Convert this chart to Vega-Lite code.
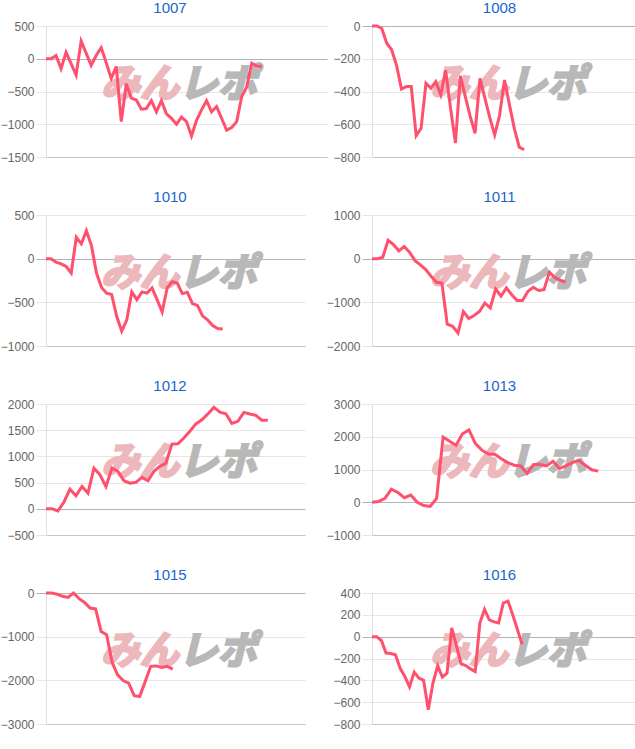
{
"$schema": "https://vega.github.io/schema/vega-lite/v6.json",
"padding": {"top": 1, "left": 0, "right": 0, "bottom": 0},
"background": "white",
"config": {
  "view": {"stroke": null},
  "axis": {"labelFont": "Liberation Sans", "labelFontSize": 12, "labelColor": "#666666", "format": "d"},
  "title": {"font": "Liberation Sans", "fontSize": 15, "fontWeight": "normal", "color": "#1a66cc", "offset": 4, "frame": "group", "anchor": "middle"}
},
"datasets": {
  "d1007": [{"i":0,"v":0},{"i":1,"v":0},{"i":2,"v":50},{"i":3,"v":-150},{"i":4,"v":100},{"i":5,"v":-75},{"i":6,"v":-250},{"i":7,"v":270},{"i":8,"v":85},{"i":9,"v":-100},{"i":10,"v":50},{"i":11,"v":170},{"i":12,"v":-60},{"i":13,"v":-300},{"i":14,"v":-120},{"i":15,"v":-960},{"i":16,"v":-380},{"i":17,"v":-600},{"i":18,"v":-630},{"i":19,"v":-770},{"i":20,"v":-760},{"i":21,"v":-640},{"i":22,"v":-810},{"i":23,"v":-640},{"i":24,"v":-840},{"i":25,"v":-910},{"i":26,"v":-1000},{"i":27,"v":-890},{"i":28,"v":-960},{"i":29,"v":-1180},{"i":30,"v":-940},{"i":31,"v":-780},{"i":32,"v":-640},{"i":33,"v":-810},{"i":34,"v":-730},{"i":35,"v":-910},{"i":36,"v":-1090},{"i":37,"v":-1050},{"i":38,"v":-960},{"i":39,"v":-580},{"i":40,"v":-430},{"i":41,"v":-70},{"i":42,"v":-110},{"i":43,"v":-120}],
  "d1008": [{"i":0,"v":0},{"i":1,"v":0},{"i":2,"v":-15},{"i":3,"v":-105},{"i":4,"v":-145},{"i":5,"v":-240},{"i":6,"v":-385},{"i":7,"v":-370},{"i":8,"v":-370},{"i":9,"v":-670},{"i":10,"v":-625},{"i":11,"v":-350},{"i":12,"v":-380},{"i":13,"v":-340},{"i":14,"v":-420},{"i":15,"v":-270},{"i":16,"v":-500},{"i":17,"v":-715},{"i":18,"v":-305},{"i":19,"v":-430},{"i":20,"v":-550},{"i":21,"v":-655},{"i":22,"v":-320},{"i":23,"v":-440},{"i":24,"v":-560},{"i":25,"v":-665},{"i":26,"v":-545},{"i":27,"v":-330},{"i":28,"v":-480},{"i":29,"v":-625},{"i":30,"v":-740},{"i":31,"v":-755}],
  "d1010": [{"i":0,"v":0},{"i":1,"v":0},{"i":2,"v":-40},{"i":3,"v":-60},{"i":4,"v":-90},{"i":5,"v":-165},{"i":6,"v":245},{"i":7,"v":170},{"i":8,"v":320},{"i":9,"v":150},{"i":10,"v":-165},{"i":11,"v":-330},{"i":12,"v":-395},{"i":13,"v":-410},{"i":14,"v":-660},{"i":15,"v":-830},{"i":16,"v":-700},{"i":17,"v":-380},{"i":18,"v":-470},{"i":19,"v":-380},{"i":20,"v":-395},{"i":21,"v":-335},{"i":22,"v":-470},{"i":23,"v":-610},{"i":24,"v":-335},{"i":25,"v":-265},{"i":26,"v":-280},{"i":27,"v":-400},{"i":28,"v":-385},{"i":29,"v":-515},{"i":30,"v":-535},{"i":31,"v":-655},{"i":32,"v":-700},{"i":33,"v":-765},{"i":34,"v":-800},{"i":35,"v":-805}],
  "d1011": [{"i":0,"v":0},{"i":1,"v":0},{"i":2,"v":30},{"i":3,"v":420},{"i":4,"v":320},{"i":5,"v":180},{"i":6,"v":280},{"i":7,"v":145},{"i":8,"v":-45},{"i":9,"v":-140},{"i":10,"v":-250},{"i":11,"v":-405},{"i":12,"v":-540},{"i":13,"v":-560},{"i":14,"v":-1500},{"i":15,"v":-1550},{"i":16,"v":-1700},{"i":17,"v":-1210},{"i":18,"v":-1370},{"i":19,"v":-1300},{"i":20,"v":-1210},{"i":21,"v":-1015},{"i":22,"v":-1130},{"i":23,"v":-695},{"i":24,"v":-860},{"i":25,"v":-670},{"i":26,"v":-825},{"i":27,"v":-960},{"i":28,"v":-960},{"i":29,"v":-750},{"i":30,"v":-655},{"i":31,"v":-730},{"i":32,"v":-710},{"i":33,"v":-305},{"i":34,"v":-430},{"i":35,"v":-495},{"i":36,"v":-535}],
  "d1012": [{"i":0,"v":0},{"i":1,"v":0},{"i":2,"v":-40},{"i":3,"v":130},{"i":4,"v":375},{"i":5,"v":250},{"i":6,"v":425},{"i":7,"v":300},{"i":8,"v":775},{"i":9,"v":650},{"i":10,"v":425},{"i":11,"v":775},{"i":12,"v":715},{"i":13,"v":535},{"i":14,"v":490},{"i":15,"v":505},{"i":16,"v":600},{"i":17,"v":535},{"i":18,"v":715},{"i":19,"v":810},{"i":20,"v":870},{"i":21,"v":1235},{"i":22,"v":1240},{"i":23,"v":1350},{"i":24,"v":1480},{"i":25,"v":1620},{"i":26,"v":1700},{"i":27,"v":1810},{"i":28,"v":1935},{"i":29,"v":1845},{"i":30,"v":1815},{"i":31,"v":1630},{"i":32,"v":1670},{"i":33,"v":1840},{"i":34,"v":1810},{"i":35,"v":1785},{"i":36,"v":1690},{"i":37,"v":1690}],
  "d1013": [{"i":0,"v":0},{"i":1,"v":20},{"i":2,"v":120},{"i":3,"v":400},{"i":4,"v":300},{"i":5,"v":140},{"i":6,"v":220},{"i":7,"v":0},{"i":8,"v":-100},{"i":9,"v":-130},{"i":10,"v":120},{"i":11,"v":1990},{"i":12,"v":1860},{"i":13,"v":1740},{"i":14,"v":2090},{"i":15,"v":2210},{"i":16,"v":1790},{"i":17,"v":1590},{"i":18,"v":1475},{"i":19,"v":1465},{"i":20,"v":1330},{"i":21,"v":1210},{"i":22,"v":1130},{"i":23,"v":1110},{"i":24,"v":880},{"i":25,"v":1150},{"i":26,"v":1150},{"i":27,"v":1110},{"i":28,"v":1250},{"i":29,"v":1030},{"i":30,"v":1110},{"i":31,"v":1210},{"i":32,"v":1280},{"i":33,"v":1130},{"i":34,"v":990},{"i":35,"v":950}],
  "d1015": [{"i":0,"v":0},{"i":1,"v":0},{"i":2,"v":-25},{"i":3,"v":-75},{"i":4,"v":-100},{"i":5,"v":0},{"i":6,"v":-130},{"i":7,"v":-215},{"i":8,"v":-345},{"i":9,"v":-365},{"i":10,"v":-880},{"i":11,"v":-955},{"i":12,"v":-1590},{"i":13,"v":-1875},{"i":14,"v":-2005},{"i":15,"v":-2065},{"i":16,"v":-2350},{"i":17,"v":-2370},{"i":18,"v":-2030},{"i":19,"v":-1680},{"i":20,"v":-1670},{"i":21,"v":-1705},{"i":22,"v":-1680},{"i":23,"v":-1745}],
  "d1016": [{"i":0,"v":0},{"i":1,"v":0},{"i":2,"v":-35},{"i":3,"v":-150},{"i":4,"v":-155},{"i":5,"v":-165},{"i":6,"v":-290},{"i":7,"v":-365},{"i":8,"v":-460},{"i":9,"v":-325},{"i":10,"v":-380},{"i":11,"v":-400},{"i":12,"v":-670},{"i":13,"v":-425},{"i":14,"v":-265},{"i":15,"v":-370},{"i":16,"v":-335},{"i":17,"v":80},{"i":18,"v":-85},{"i":19,"v":-250},{"i":20,"v":-265},{"i":21,"v":-295},{"i":22,"v":-320},{"i":23,"v":125},{"i":24,"v":250},{"i":25,"v":155},{"i":26,"v":135},{"i":27,"v":125},{"i":28,"v":310},{"i":29,"v":325},{"i":30,"v":200},{"i":31,"v":65},{"i":32,"v":-70}]
},
"concat": [
  {"title": {"text": "1007", "dx": -16.5}, "width": 281, "height": 131,
   "encoding": {
     "x": {"field": "i", "type": "quantitative", "scale": {"domain": [0, 56], "nice": false, "zero": false}, "axis": {"title": null, "labels": false, "ticks": false, "grid": false, "domain": true, "domainColor": "#c4c4c4"}},
     "y": {"field": "v", "type": "quantitative", "scale": {"domain": [-1500, 500], "nice": false, "zero": false}, "axis": {"title": null, "values": [-1500, -1000, -500, 0, 500], "grid": true, "gridColor": {"condition": {"test": "datum.value === 0", "value": "#b3b3b3"}, "value": "#e6e6e6"}, "tickColor": {"condition": {"test": "datum.value === 0", "value": "#b3b3b3"}, "value": "#e6e6e6"}, "tickSize": 10, "labelPadding": 2, "domainColor": "#e0e0e0", "minExtent": 44, "maxExtent": 44}}
   },
   "layer": [
    {"data": {"values": [{"i": 26.5, "v": -400, "t": "みん"}]}, "mark": {"type": "text", "align": "right", "baseline": "middle", "font": "Noto Sans CJK JP", "fontSize": 39, "fontWeight": "bold", "fontStyle": "italic", "color": "#ecb8bb", "stroke": "#ecb8bb", "strokeWidth": 2.5}, "encoding": {"text": {"field": "t"}}},
    {"data": {"values": [{"i": 26.5, "v": -400, "t": "レポ"}]}, "mark": {"type": "text", "align": "left", "baseline": "middle", "font": "Noto Sans CJK JP", "fontSize": 39, "fontWeight": "bold", "fontStyle": "italic", "color": "#b8b8b8", "stroke": "#b8b8b8", "strokeWidth": 2.5}, "encoding": {"text": {"field": "t"}}},
    {"data": {"name": "d1007"}, "mark": {"type": "line", "color": "#ff506e", "strokeWidth": 3}}
   ]},
  {"title": {"text": "1008", "dx": -5}, "width": 265, "height": 131,
   "encoding": {
     "x": {"field": "i", "type": "quantitative", "scale": {"domain": [0, 54], "nice": false, "zero": false}, "axis": {"title": null, "labels": false, "ticks": false, "grid": false, "domain": true, "domainColor": "#c4c4c4"}},
     "y": {"field": "v", "type": "quantitative", "scale": {"domain": [-800, 0], "nice": false, "zero": false}, "axis": {"title": null, "values": [-800, -600, -400, -200, 0], "grid": true, "gridColor": {"condition": {"test": "datum.value === 0", "value": "#b3b3b3"}, "value": "#e6e6e6"}, "tickColor": {"condition": {"test": "datum.value === 0", "value": "#b3b3b3"}, "value": "#e6e6e6"}, "tickSize": 10, "labelPadding": 2, "domainColor": "#e0e0e0", "minExtent": 40, "maxExtent": 40}}
   },
   "layer": [
    {"data": {"values": [{"i": 27.7, "v": -360, "t": "みん"}]}, "mark": {"type": "text", "align": "right", "baseline": "middle", "font": "Noto Sans CJK JP", "fontSize": 39, "fontWeight": "bold", "fontStyle": "italic", "color": "#ecb8bb", "stroke": "#ecb8bb", "strokeWidth": 2.5}, "encoding": {"text": {"field": "t"}}},
    {"data": {"values": [{"i": 27.7, "v": -360, "t": "レポ"}]}, "mark": {"type": "text", "align": "left", "baseline": "middle", "font": "Noto Sans CJK JP", "fontSize": 39, "fontWeight": "bold", "fontStyle": "italic", "color": "#b8b8b8", "stroke": "#b8b8b8", "strokeWidth": 2.5}, "encoding": {"text": {"field": "t"}}},
    {"data": {"name": "d1008"}, "mark": {"type": "line", "color": "#ff506e", "strokeWidth": 3}}
   ]},
  {"title": {"text": "1010", "dx": -5.5}, "width": 259, "height": 131,
   "encoding": {
     "x": {"field": "i", "type": "quantitative", "scale": {"domain": [0, 51.3], "nice": false, "zero": false}, "axis": {"title": null, "labels": false, "ticks": false, "grid": false, "domain": true, "domainColor": "#c4c4c4"}},
     "y": {"field": "v", "type": "quantitative", "scale": {"domain": [-1000, 500], "nice": false, "zero": false}, "axis": {"title": null, "values": [-1000, -500, 0, 500], "grid": true, "gridColor": {"condition": {"test": "datum.value === 0", "value": "#b3b3b3"}, "value": "#e6e6e6"}, "tickColor": {"condition": {"test": "datum.value === 0", "value": "#b3b3b3"}, "value": "#e6e6e6"}, "tickSize": 10, "labelPadding": 2, "domainColor": "#e0e0e0", "minExtent": 44, "maxExtent": 44}}
   },
   "layer": [
    {"data": {"values": [{"i": 26.3, "v": -175, "t": "みん"}]}, "mark": {"type": "text", "align": "right", "baseline": "middle", "font": "Noto Sans CJK JP", "fontSize": 39, "fontWeight": "bold", "fontStyle": "italic", "color": "#ecb8bb", "stroke": "#ecb8bb", "strokeWidth": 2.5}, "encoding": {"text": {"field": "t"}}},
    {"data": {"values": [{"i": 26.3, "v": -175, "t": "レポ"}]}, "mark": {"type": "text", "align": "left", "baseline": "middle", "font": "Noto Sans CJK JP", "fontSize": 39, "fontWeight": "bold", "fontStyle": "italic", "color": "#b8b8b8", "stroke": "#b8b8b8", "strokeWidth": 2.5}, "encoding": {"text": {"field": "t"}}},
    {"data": {"name": "d1010"}, "mark": {"type": "line", "color": "#ff506e", "strokeWidth": 3}}
   ]},
  {"title": {"text": "1011", "dx": -5}, "width": 265, "height": 131,
   "encoding": {
     "x": {"field": "i", "type": "quantitative", "scale": {"domain": [0, 49.3], "nice": false, "zero": false}, "axis": {"title": null, "labels": false, "ticks": false, "grid": false, "domain": true, "domainColor": "#c4c4c4"}},
     "y": {"field": "v", "type": "quantitative", "scale": {"domain": [-2000, 1000], "nice": false, "zero": false}, "axis": {"title": null, "values": [-2000, -1000, 0, 1000], "grid": true, "gridColor": {"condition": {"test": "datum.value === 0", "value": "#b3b3b3"}, "value": "#e6e6e6"}, "tickColor": {"condition": {"test": "datum.value === 0", "value": "#b3b3b3"}, "value": "#e6e6e6"}, "tickSize": 10, "labelPadding": 2, "domainColor": "#e0e0e0", "minExtent": 40, "maxExtent": 40}}
   },
   "layer": [
    {"data": {"values": [{"i": 25.3, "v": -350, "t": "みん"}]}, "mark": {"type": "text", "align": "right", "baseline": "middle", "font": "Noto Sans CJK JP", "fontSize": 39, "fontWeight": "bold", "fontStyle": "italic", "color": "#ecb8bb", "stroke": "#ecb8bb", "strokeWidth": 2.5}, "encoding": {"text": {"field": "t"}}},
    {"data": {"values": [{"i": 25.3, "v": -350, "t": "レポ"}]}, "mark": {"type": "text", "align": "left", "baseline": "middle", "font": "Noto Sans CJK JP", "fontSize": 39, "fontWeight": "bold", "fontStyle": "italic", "color": "#b8b8b8", "stroke": "#b8b8b8", "strokeWidth": 2.5}, "encoding": {"text": {"field": "t"}}},
    {"data": {"name": "d1011"}, "mark": {"type": "line", "color": "#ff506e", "strokeWidth": 3}}
   ]},
  {"title": {"text": "1012", "dx": -5.5}, "width": 259, "height": 131,
   "encoding": {
     "x": {"field": "i", "type": "quantitative", "scale": {"domain": [0, 43.2], "nice": false, "zero": false}, "axis": {"title": null, "labels": false, "ticks": false, "grid": false, "domain": true, "domainColor": "#c4c4c4"}},
     "y": {"field": "v", "type": "quantitative", "scale": {"domain": [-500, 2000], "nice": false, "zero": false}, "axis": {"title": null, "values": [-500, 0, 500, 1000, 1500, 2000], "grid": true, "gridColor": {"condition": {"test": "datum.value === 0", "value": "#b3b3b3"}, "value": "#e6e6e6"}, "tickColor": {"condition": {"test": "datum.value === 0", "value": "#b3b3b3"}, "value": "#e6e6e6"}, "tickSize": 10, "labelPadding": 2, "domainColor": "#e0e0e0", "minExtent": 44, "maxExtent": 44}}
   },
   "layer": [
    {"data": {"values": [{"i": 22.2, "v": 875, "t": "みん"}]}, "mark": {"type": "text", "align": "right", "baseline": "middle", "font": "Noto Sans CJK JP", "fontSize": 39, "fontWeight": "bold", "fontStyle": "italic", "color": "#ecb8bb", "stroke": "#ecb8bb", "strokeWidth": 2.5}, "encoding": {"text": {"field": "t"}}},
    {"data": {"values": [{"i": 22.2, "v": 875, "t": "レポ"}]}, "mark": {"type": "text", "align": "left", "baseline": "middle", "font": "Noto Sans CJK JP", "fontSize": 39, "fontWeight": "bold", "fontStyle": "italic", "color": "#b8b8b8", "stroke": "#b8b8b8", "strokeWidth": 2.5}, "encoding": {"text": {"field": "t"}}},
    {"data": {"name": "d1012"}, "mark": {"type": "line", "color": "#ff506e", "strokeWidth": 3}}
   ]},
  {"title": {"text": "1013", "dx": -5}, "width": 265, "height": 131,
   "encoding": {
     "x": {"field": "i", "type": "quantitative", "scale": {"domain": [0, 41], "nice": false, "zero": false}, "axis": {"title": null, "labels": false, "ticks": false, "grid": false, "domain": true, "domainColor": "#c4c4c4"}},
     "y": {"field": "v", "type": "quantitative", "scale": {"domain": [-1000, 3000], "nice": false, "zero": false}, "axis": {"title": null, "values": [-1000, 0, 1000, 2000, 3000], "grid": true, "gridColor": {"condition": {"test": "datum.value === 0", "value": "#b3b3b3"}, "value": "#e6e6e6"}, "tickColor": {"condition": {"test": "datum.value === 0", "value": "#b3b3b3"}, "value": "#e6e6e6"}, "tickSize": 10, "labelPadding": 2, "domainColor": "#e0e0e0", "minExtent": 40, "maxExtent": 40}}
   },
   "layer": [
    {"data": {"values": [{"i": 21.0, "v": 1200, "t": "みん"}]}, "mark": {"type": "text", "align": "right", "baseline": "middle", "font": "Noto Sans CJK JP", "fontSize": 39, "fontWeight": "bold", "fontStyle": "italic", "color": "#ecb8bb", "stroke": "#ecb8bb", "strokeWidth": 2.5}, "encoding": {"text": {"field": "t"}}},
    {"data": {"values": [{"i": 21.0, "v": 1200, "t": "レポ"}]}, "mark": {"type": "text", "align": "left", "baseline": "middle", "font": "Noto Sans CJK JP", "fontSize": 39, "fontWeight": "bold", "fontStyle": "italic", "color": "#b8b8b8", "stroke": "#b8b8b8", "strokeWidth": 2.5}, "encoding": {"text": {"field": "t"}}},
    {"data": {"name": "d1013"}, "mark": {"type": "line", "color": "#ff506e", "strokeWidth": 3}}
   ]},
  {"title": {"text": "1015", "dx": -5.5}, "width": 259, "height": 131,
   "encoding": {
     "x": {"field": "i", "type": "quantitative", "scale": {"domain": [0, 47], "nice": false, "zero": false}, "axis": {"title": null, "labels": false, "ticks": false, "grid": false, "domain": true, "domainColor": "#c4c4c4"}},
     "y": {"field": "v", "type": "quantitative", "scale": {"domain": [-3000, 0], "nice": false, "zero": false}, "axis": {"title": null, "values": [-3000, -2000, -1000, 0], "grid": true, "gridColor": {"condition": {"test": "datum.value === 0", "value": "#b3b3b3"}, "value": "#e6e6e6"}, "tickColor": {"condition": {"test": "datum.value === 0", "value": "#b3b3b3"}, "value": "#e6e6e6"}, "tickSize": 10, "labelPadding": 2, "domainColor": "#e0e0e0", "minExtent": 44, "maxExtent": 44}}
   },
   "layer": [
    {"data": {"values": [{"i": 24.1, "v": -1350, "t": "みん"}]}, "mark": {"type": "text", "align": "right", "baseline": "middle", "font": "Noto Sans CJK JP", "fontSize": 39, "fontWeight": "bold", "fontStyle": "italic", "color": "#ecb8bb", "stroke": "#ecb8bb", "strokeWidth": 2.5}, "encoding": {"text": {"field": "t"}}},
    {"data": {"values": [{"i": 24.1, "v": -1350, "t": "レポ"}]}, "mark": {"type": "text", "align": "left", "baseline": "middle", "font": "Noto Sans CJK JP", "fontSize": 39, "fontWeight": "bold", "fontStyle": "italic", "color": "#b8b8b8", "stroke": "#b8b8b8", "strokeWidth": 2.5}, "encoding": {"text": {"field": "t"}}},
    {"data": {"name": "d1015"}, "mark": {"type": "line", "color": "#ff506e", "strokeWidth": 3}}
   ]},
  {"title": {"text": "1016", "dx": -5}, "width": 265, "height": 131,
   "encoding": {
     "x": {"field": "i", "type": "quantitative", "scale": {"domain": [0, 56.5], "nice": false, "zero": false}, "axis": {"title": null, "labels": false, "ticks": false, "grid": false, "domain": true, "domainColor": "#c4c4c4"}},
     "y": {"field": "v", "type": "quantitative", "scale": {"domain": [-800, 400], "nice": false, "zero": false}, "axis": {"title": null, "values": [-800, -600, -400, -200, 0, 200, 400], "grid": true, "gridColor": {"condition": {"test": "datum.value === 0", "value": "#b3b3b3"}, "value": "#e6e6e6"}, "tickColor": {"condition": {"test": "datum.value === 0", "value": "#b3b3b3"}, "value": "#e6e6e6"}, "tickSize": 10, "labelPadding": 2, "domainColor": "#e0e0e0", "minExtent": 40, "maxExtent": 40}}
   },
   "layer": [
    {"data": {"values": [{"i": 29.0, "v": -140, "t": "みん"}]}, "mark": {"type": "text", "align": "right", "baseline": "middle", "font": "Noto Sans CJK JP", "fontSize": 39, "fontWeight": "bold", "fontStyle": "italic", "color": "#ecb8bb", "stroke": "#ecb8bb", "strokeWidth": 2.5}, "encoding": {"text": {"field": "t"}}},
    {"data": {"values": [{"i": 29.0, "v": -140, "t": "レポ"}]}, "mark": {"type": "text", "align": "left", "baseline": "middle", "font": "Noto Sans CJK JP", "fontSize": 39, "fontWeight": "bold", "fontStyle": "italic", "color": "#b8b8b8", "stroke": "#b8b8b8", "strokeWidth": 2.5}, "encoding": {"text": {"field": "t"}}},
    {"data": {"name": "d1016"}, "mark": {"type": "line", "color": "#ff506e", "strokeWidth": 3}}
   ]}
],
"columns": 2,
"spacing": {"row": 58, "column": 45},
"bounds": "flush",
"align": "all"
}
